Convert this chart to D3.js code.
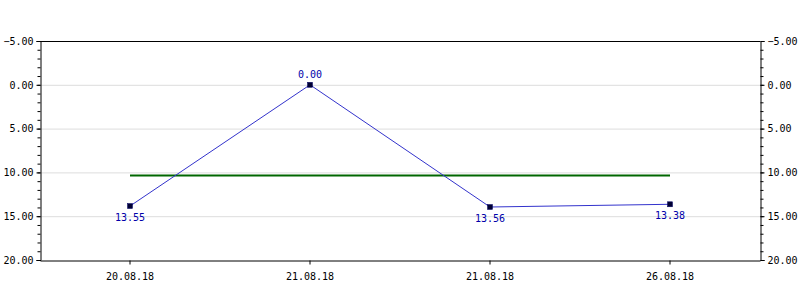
<!DOCTYPE html>
<html>
<head>
<meta charset="utf-8">
<script src="https://cdn.jsdelivr.net/npm/d3@7"></script>
<style>
  body { margin: 0; background: #fff; }
  text { font-family: "DejaVu Sans Mono", monospace; font-size: 10px; }
</style>
</head>
<body>
<div id="chart"></div>
<script>
// dates on the x axis
const dates = ["20.08.18", "21.08.18", "21.08.18", "26.08.18"];
// plotted positions
const plotted = [13.84, 0.0, 13.95, 13.64];
// value labels printed next to the points
const pointLabels = ["13.55", "0.00", "13.56", "13.38"];
// y axis ticks
const yTicks = [-5, 0, 5, 10, 15, 20];
const yMinorTicks = d3.range(-5, 21, 1);

const margin = { top: 41, right: 40, bottom: 40, left: 40 };
const width = 800 - margin.left - margin.right;
const height = 300 - margin.top - margin.bottom - 0;

const svg = d3.select("#chart")
    .append("svg")
    .attr("width", 800)
    .attr("height", 300)
    .append("g")
    .attr("transform", `translate(${margin.left},${margin.top})`);

const x = d3.scaleBand()
    .domain(d3.range(dates.length))
    .range([0, width]);

const y = d3.scaleLinear()
    .domain([-5, 20])
    .range([0, 219]);

const cx = i => x(i) + x.bandwidth() / 2;

// grid
svg.append("g")
    .selectAll("line")
    .data(yTicks.slice(1, -1))
    .enter()
    .append("line")
    .attr("x1", 0).attr("x2", width)
    .attr("y1", d => y(d) + 0.5).attr("y2", d => y(d) + 0.5)
    .attr("stroke", "#dddddd");

// frame top
svg.append("line")
    .attr("x1", 0).attr("x2", width)
    .attr("y1", 0.5).attr("y2", 0.5)
    .attr("stroke", "#000");

// left axis
const leftAxis = svg.append("g").attr("transform", "translate(0.5,0)");
leftAxis.append("g")
    .call(d3.axisLeft(y).tickValues(yMinorTicks).tickSize(3).tickFormat(""))
    .call(g => g.select(".domain").remove());
leftAxis.append("g")
    .call(d3.axisLeft(y).tickValues(yTicks).tickSize(4).tickPadding(3).tickFormat(d3.format(".2f")))
    .call(g => g.selectAll("text").style("font-size", "10px").style("font-family", "DejaVu Sans Mono"));

// right axis
const rightAxis = svg.append("g").attr("transform", `translate(${width + 0.5},0)`);
rightAxis.append("g")
    .call(d3.axisRight(y).tickValues(yMinorTicks).tickSize(3).tickFormat(""))
    .call(g => g.select(".domain").remove());
rightAxis.append("g")
    .call(d3.axisRight(y).tickValues(yTicks).tickSize(4).tickPadding(3).tickFormat(d3.format(".2f")))
    .call(g => g.selectAll("text").style("font-size", "10px").style("font-family", "DejaVu Sans Mono"));

// bottom axis
svg.append("g")
    .attr("transform", `translate(0,${y(20) + 0.5})`)
    .call(d3.axisBottom(x).tickSize(4).tickPadding(8).tickFormat(i => dates[i]).tickSizeOuter(0))
    .call(g => g.selectAll("text").style("font-size", "10px").style("font-family", "DejaVu Sans Mono"));

// average line
const avg = d3.mean(plotted);
svg.append("line")
    .attr("x1", cx(0)).attr("x2", cx(dates.length - 1))
    .attr("y1", y(avg)).attr("y2", y(avg))
    .attr("stroke", "#006600")
    .attr("stroke-width", 2);

// series line
svg.append("path")
    .datum(plotted)
    .attr("fill", "none")
    .attr("stroke", "#3333cc")
    .attr("stroke-width", 1)
    .attr("d", d3.line().x((d, i) => cx(i)).y(d => y(d)));

// markers
svg.selectAll(".marker")
    .data(plotted)
    .enter()
    .append("rect")
    .attr("class", "marker")
    .attr("x", (d, i) => cx(i) - 2.5)
    .attr("y", d => y(d) - 2.5)
    .attr("width", 5)
    .attr("height", 5)
    .attr("fill", "#000033")
    .attr("stroke", "#000066")
    .attr("stroke-width", 0.5);

// point labels
const minVal = d3.min(plotted);
svg.selectAll(".plabel")
    .data(plotted)
    .enter()
    .append("text")
    .attr("class", "plabel")
    .attr("x", (d, i) => cx(i))
    .attr("y", d => d === minVal ? y(d) - 7 : y(d) + 15)
    .attr("text-anchor", "middle")
    .attr("fill", "#0000aa")
    .text((d, i) => pointLabels[i]);
</script>
</body>
</html>
